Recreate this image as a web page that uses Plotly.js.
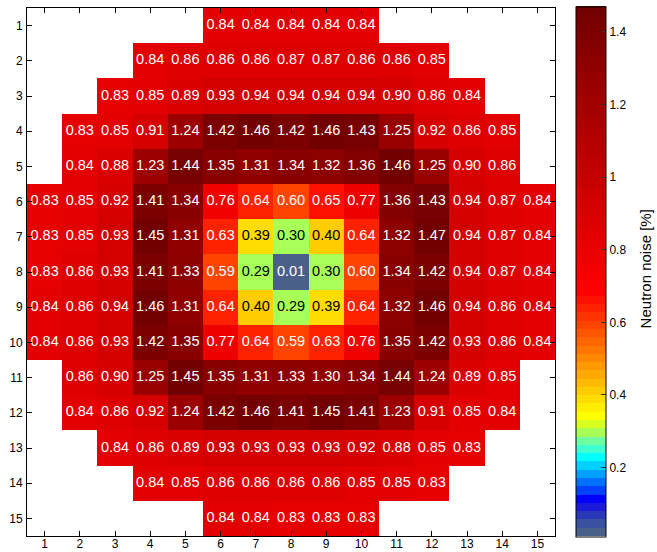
<!DOCTYPE html>
<html><head><meta charset="utf-8">
<script src="https://cdn.plot.ly/plotly-3.0.1.min.js"></script>
<style>html,body{margin:0;padding:0;background:#fff;}#chart{width:657px;height:552px;}</style>
</head><body><div id="chart"></div>
<script>
const columns = [1,2,3,4,5,6,7,8,9,10,11,12,13,14,15];
const rowLabels = [1,2,3,4,5,6,7,8,9,10,11,12,13,14,15];
const _ = null;
const row1  = [_,_,_,_,_,0.84,0.84,0.84,0.84,0.84,_,_,_,_,_];
const row2  = [_,_,_,0.84,0.86,0.86,0.86,0.87,0.87,0.86,0.86,0.85,_,_,_];
const row3  = [_,_,0.83,0.85,0.89,0.93,0.94,0.94,0.94,0.94,0.90,0.86,0.84,_,_];
const row4  = [_,0.83,0.85,0.91,1.24,1.42,1.46,1.42,1.46,1.43,1.25,0.92,0.86,0.85,_];
const row5  = [_,0.84,0.88,1.23,1.44,1.35,1.31,1.34,1.32,1.36,1.46,1.25,0.90,0.86,_];
const row6  = [0.83,0.85,0.92,1.41,1.34,0.76,0.64,0.60,0.65,0.77,1.36,1.43,0.94,0.87,0.84];
const row7  = [0.83,0.85,0.93,1.45,1.31,0.63,0.39,0.30,0.40,0.64,1.32,1.47,0.94,0.87,0.84];
const row8  = [0.83,0.86,0.93,1.41,1.33,0.59,0.29,0.01,0.30,0.60,1.34,1.42,0.94,0.87,0.84];
const row9  = [0.84,0.86,0.94,1.46,1.31,0.64,0.40,0.29,0.39,0.64,1.32,1.46,0.94,0.86,0.84];
const row10 = [0.84,0.86,0.93,1.42,1.35,0.77,0.64,0.59,0.63,0.76,1.35,1.42,0.93,0.86,0.84];
const row11 = [_,0.86,0.90,1.25,1.45,1.35,1.31,1.33,1.30,1.34,1.44,1.24,0.89,0.85,_];
const row12 = [_,0.84,0.86,0.92,1.24,1.42,1.46,1.41,1.45,1.41,1.23,0.91,0.85,0.84,_];
const row13 = [_,_,0.84,0.86,0.89,0.93,0.93,0.93,0.93,0.92,0.88,0.85,0.83,_,_];
const row14 = [_,_,_,0.84,0.85,0.86,0.86,0.86,0.86,0.85,0.85,0.83,_,_,_];
const row15 = [_,_,_,_,_,0.84,0.84,0.83,0.83,0.83,_,_,_,_,_];
const colorbarTicks = [0.2,0.4,0.6,0.8,1,1.2,1.4];
const colorbarTickText = ['0.2','0.4','0.6','0.8','1','1.2','1.4'];
const colorbarTitle = 'Neutron noise [%]';

const z = [row1,row2,row3,row4,row5,row6,row7,row8,row9,row10,row11,row12,row13,row14,row15];

// 64-level stepped colormap
const low = ['#4a6088','#3a50a0','#2a38b8','#1a1ad8','#0000ff','#0040ff','#0070ff','#00a0ff',
             '#00d0ff','#00ffff','#40ffd0','#70ffa0','#a8ff58','#d8ff20','#ffff00'];
const bands = [];
for (let k = 0; k < 64; k++) {
  if (k < low.length) bands.push(low[k]);
  else if (k <= 29) { const g = Math.round(255 - (k - 14) * 17); bands.push(`rgb(255,${g},0)`); }
  else { const r = Math.round(255 - (k - 29) * (255 - 115) / 34); bands.push(`rgb(${r},0,0)`); }
}
const colorscale = [];
bands.forEach((c, k) => { colorscale.push([k / 64, c]); colorscale.push([(k + 1) / 64, c]); });

const tx = [], ty = [], tt = [], tc = [];
z.forEach((row, i) => row.forEach((v, j) => {
  if (v === null) return;
  tx.push(columns[j]); ty.push(rowLabels[i]); tt.push(v.toFixed(2));
  tc.push(v > 0.2 && v < 0.5 ? '#000000' : '#ffffff');
}));

const font = 'Liberation Sans, Arial, sans-serif';
const heat = {
  type: 'heatmap', x: columns, y: rowLabels, z: z, colorscale: colorscale,
  zsmooth: false, hoverongaps: false,
  colorbar: {
    x: 1.04, xanchor: 'left', xref: 'paper', y: 0.5, yanchor: 'middle', len: 1.002, lenmode: 'fraction',
    thickness: 30, thicknessmode: 'pixels', xpad: 0, ypad: 0,
    outlinewidth: 1, outlinecolor: '#000',
    ticks: 'inside', ticklen: 5, tickcolor: '#333', tickwidth: 1,
    tickvals: colorbarTicks, ticktext: colorbarTickText,
    tickfont: {family: font, size: 12, color: '#000'}
  }
};
const labels = {
  type: 'scatter', mode: 'text', x: tx, y: ty, text: tt,
  textposition: 'middle center',
  textfont: {family: font, size: 14.5, color: tc},
  hoverinfo: 'skip', showlegend: false
};
const axisCommon = {
  tickvals: columns, ticks: 'inside', ticklen: 5, tickcolor: '#000', tickwidth: 1,
  mirror: 'ticks', showline: true, linecolor: '#000', linewidth: 1,
  showgrid: false, zeroline: false,
  tickfont: {family: font, size: 12, color: '#000'}
};
const layout = {
  width: 657, height: 552,
  margin: {l: 27, r: 102, t: 7, b: 16},
  paper_bgcolor: '#fff', plot_bgcolor: '#fff',
  xaxis: Object.assign({}, axisCommon, {range: [0.5, 15.5], ticklabelstandoff: -3}),
  yaxis: Object.assign({}, axisCommon, {range: [15.5, 0.5], tickvals: rowLabels, ticklabelstandoff: 1}),
  showlegend: false,
  annotations: [{
    text: colorbarTitle, xref: 'paper', yref: 'paper', x: 1.1705, y: 0.505,
    xanchor: 'center', yanchor: 'middle', textangle: -90, showarrow: false,
    font: {family: font, size: 15, color: '#000'}
  }]
};
Plotly.newPlot('chart', [heat, labels], layout, {displayModeBar: false, staticPlot: true});
</script>
</body></html>
